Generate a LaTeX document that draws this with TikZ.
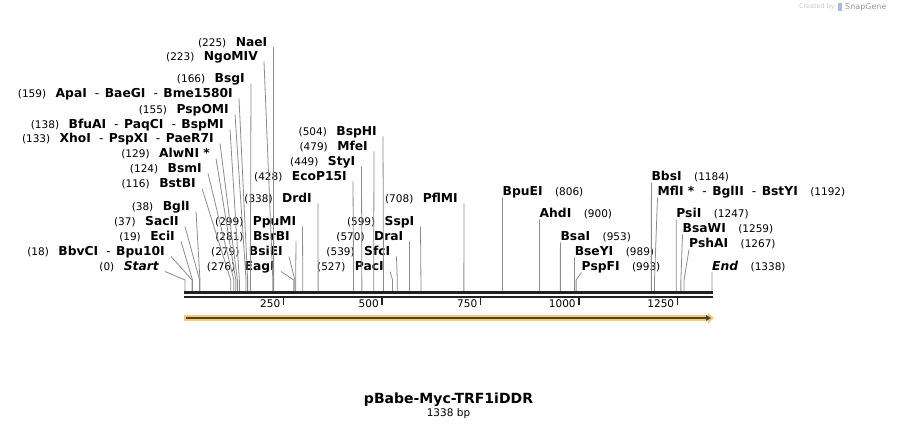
\documentclass[tikz,border=0pt]{standalone}
\usepackage{fontspec}
\setmainfont{DejaVu Sans}
\usetikzlibrary{arrows.meta}
\definecolor{cutgray}{RGB}{140,140,140}
\definecolor{mapblack}{RGB}{34,34,34}
\definecolor{featfill}{RGB}{248,202,112}
\definecolor{featline}{RGB}{80,66,48}
\newcommand{\bpnum}[1]{{\fontsize{10.5pt}{12pt}\selectfont(#1)}}
\newcommand{\enzname}[1]{{\fontsize{12.3pt}{14pt}\selectfont\bfseries #1}}
\newcommand{\alsocut}{\hspace{8pt}{\mdseries -}\hspace{5.5pt}}
\tikzset{
    leftlabel/.style = {anchor=east, inner sep=0},
    rightlabel/.style = {anchor=west, inner sep=0},
    cutline/.style = {
        draw=cutgray, line width=0.8pt,
        to path={-- (\tikztotarget |- knee) -- (\tikztotarget)}
    }
}

\begin{document}
\begin{tikzpicture}[x=1pt, y=-1pt]
    \useasboundingbox (0,0) rectangle (897,430);
    \coordinate (knee) at (0,280);

    \node[leftlabel] (naei) at (267.5,42.5) {\bpnum{225}\hspace{9.5pt}\enzname{NaeI}};
    \node[leftlabel] (ngomiv) at (258,57) {\bpnum{223}\hspace{9.5pt}\enzname{NgoMIV}};
    \node[leftlabel] (bsgi) at (245,79) {\bpnum{166}\hspace{9.5pt}\enzname{BsgI}};
    \node[leftlabel] (apai) at (233,94) {\bpnum{159}\hspace{9.5pt}\enzname{ApaI\alsocut BaeGI\alsocut Bme1580I}};
    \node[leftlabel] (pspomi) at (229,110) {\bpnum{155}\hspace{9.5pt}\enzname{PspOMI}};
    \node[leftlabel] (bfuai) at (224,125) {\bpnum{138}\hspace{9.5pt}\enzname{BfuAI\alsocut PaqCI\alsocut BspMI}};
    \node[leftlabel] (xhoi) at (214,139) {\bpnum{133}\hspace{9.5pt}\enzname{XhoI\alsocut PspXI\alsocut PaeR7I}};
    \node[leftlabel] (alwni) at (210,154) {\bpnum{129}\hspace{9.5pt}\enzname{AlwNI *}};
    \node[leftlabel] (bsmi) at (202,169) {\bpnum{124}\hspace{9.5pt}\enzname{BsmI}};
    \node[leftlabel] (bstbi) at (196,184) {\bpnum{116}\hspace{9.5pt}\enzname{BstBI}};
    \node[leftlabel] (bgli) at (190,207) {\bpnum{38}\hspace{9.5pt}\enzname{BglI}};
    \node[leftlabel] (sacii) at (179,222) {\bpnum{37}\hspace{9.5pt}\enzname{SacII}};
    \node[leftlabel] (ecii) at (175,237) {\bpnum{19}\hspace{9.5pt}\enzname{EciI}};
    \node[leftlabel] (bbvci) at (165,252) {\bpnum{18}\hspace{9.5pt}\enzname{BbvCI\alsocut Bpu10I}};
    \node[leftlabel] (mapstart) at (159,267) {\bpnum{0}\hspace{9.5pt}\enzname{\itshape Start}};

    \node[leftlabel] (bsphi) at (377,132) {\bpnum{504}\hspace{9.5pt}\enzname{BspHI}};
    \node[leftlabel] (mfei) at (368,147) {\bpnum{479}\hspace{9.5pt}\enzname{MfeI}};
    \node[leftlabel] (styi) at (355.5,162) {\bpnum{449}\hspace{9.5pt}\enzname{StyI}};
    \node[leftlabel] (ecop15i) at (347,177) {\bpnum{428}\hspace{9.5pt}\enzname{EcoP15I}};
    \node[leftlabel] (drdi) at (312,199) {\bpnum{338}\hspace{9.5pt}\enzname{DrdI}};
    \node[leftlabel] (ppumi) at (296.5,222) {\bpnum{299}\hspace{9.5pt}\enzname{PpuMI}};
    \node[leftlabel] (bsrbi) at (290,237) {\bpnum{281}\hspace{9.5pt}\enzname{BsrBI}};
    \node[leftlabel] (bsiei) at (283,252) {\bpnum{279}\hspace{9.5pt}\enzname{BsiEI}};
    \node[leftlabel] (eagi) at (275,267) {\bpnum{276}\hspace{9.5pt}\enzname{EagI}};
    \node[leftlabel] (pflmi) at (458,199) {\bpnum{708}\hspace{9.5pt}\enzname{PflMI}};
    \node[leftlabel] (sspi) at (414.5,222) {\bpnum{599}\hspace{9.5pt}\enzname{SspI}};
    \node[leftlabel] (drai) at (403.5,237) {\bpnum{570}\hspace{9.5pt}\enzname{DraI}};
    \node[leftlabel] (sfci) at (390.5,252) {\bpnum{539}\hspace{9.5pt}\enzname{SfcI}};
    \node[leftlabel] (paci) at (384,267) {\bpnum{527}\hspace{9.5pt}\enzname{PacI}};

    \node[rightlabel] (bpuei) at (502.5,192) {\enzname{BpuEI}\hspace{12.5pt}\bpnum{806}};
    \node[rightlabel] (ahdi) at (539.5,214) {\enzname{AhdI}\hspace{12.5pt}\bpnum{900}};
    \node[rightlabel] (bsai) at (560.4,237) {\enzname{BsaI}\hspace{12.5pt}\bpnum{953}};
    \node[rightlabel] (bseyi) at (574.6,252) {\enzname{BseYI}\hspace{12.5pt}\bpnum{989}};
    \node[rightlabel] (pspfi) at (581.5,267) {\enzname{PspFI}\hspace{12.5pt}\bpnum{993}};
    \node[rightlabel] (bbsi) at (651.4,177) {\enzname{BbsI}\hspace{12.5pt}\bpnum{1184}};
    \node[rightlabel] (mfli) at (657.5,192) {\enzname{MflI *\alsocut BglII\alsocut BstYI}\hspace{12.5pt}\bpnum{1192}};
    \node[rightlabel] (psii) at (676.2,214) {\enzname{PsiI}\hspace{12.5pt}\bpnum{1247}};
    \node[rightlabel] (bsawi) at (682.5,229) {\enzname{BsaWI}\hspace{12.5pt}\bpnum{1259}};
    \node[rightlabel] (pshai) at (689,244) {\enzname{PshAI}\hspace{12.5pt}\bpnum{1267}};
    \node[rightlabel] (mapend) at (712,267) {\enzname{\itshape End}\hspace{12.5pt}\bpnum{1338}};

    \foreach \n/\p in {naei/225, ngomiv/223, bsgi/166, apai/159, pspomi/155,
            bfuai/138, xhoi/133, alwni/129, bsmi/124, bstbi/116, bgli/38,
            sacii/37, ecii/19, bbvci/18, mapstart/0, bsphi/504, mfei/479,
            styi/449, ecop15i/428, drdi/338, ppumi/299, bsrbi/281, bsiei/279,
            eagi/276, pflmi/708, sspi/599, drai/570, sfci/539, paci/527} {
        \coordinate (site\n) at ({185+0.39387*\p},291);
        \draw[cutline] ([xshift=6pt,yshift=-4.5pt]\n.east) to (site\n);
    }
    \foreach \n/\p in {bpuei/806, ahdi/900, bsai/953, bseyi/989, pspfi/993,
            bbsi/1184, mfli/1192, psii/1247, bsawi/1259, pshai/1267, mapend/1338} {
        \coordinate (site\n) at ({185+0.39387*\p},291);
        \draw[cutline] ([yshift=-5.5pt]\n.west) to (site\n);
    }

    \draw[mapblack, line width=3pt] (184,292.5) -- (713,292.5);
    \draw[mapblack, line width=2.5pt] (184,296.8) -- (713,296.8);
    \foreach \t in {250,500,750,1000,1250} {
        \draw[mapblack, line width=1.5pt] ({185+0.39387*\t},297) -- ++(0,8);
        \node[leftlabel, font=\fontsize{10.5pt}{12pt}\selectfont] (tick\t) at ({182+0.39387*\t},304) {\t};
    }

    \draw[featfill, line width=5.5pt, -{Triangle[length=6pt, width=10pt]}] (184,318) -- (714,318);
    \draw[featline, line width=1.6pt, -{Triangle[length=5pt, width=5.5pt]}] (186,318) -- (711,318);

    \node[font=\fontsize{14pt}{16pt}\selectfont\bfseries] (title) at (448.5,400) {pBabe-Myc-TRF1iDDR};
    \node[font=\fontsize{10.5pt}{12pt}\selectfont] (length) at (448.5,414) {1338 bp};

    \node[anchor=east, inner sep=0, text=black!22, font=\fontsize{6.5pt}{7pt}\selectfont] (credit) at (835,7) {Created by};
    \fill[cyan!45!blue!35] (838,3) rectangle (841.5,11);
    \node[anchor=west, inner sep=0, text=black!40, font=\fontsize{8pt}{9pt}\selectfont] (brand) at (845,7) {SnapGene};
\end{tikzpicture}
\end{document}
